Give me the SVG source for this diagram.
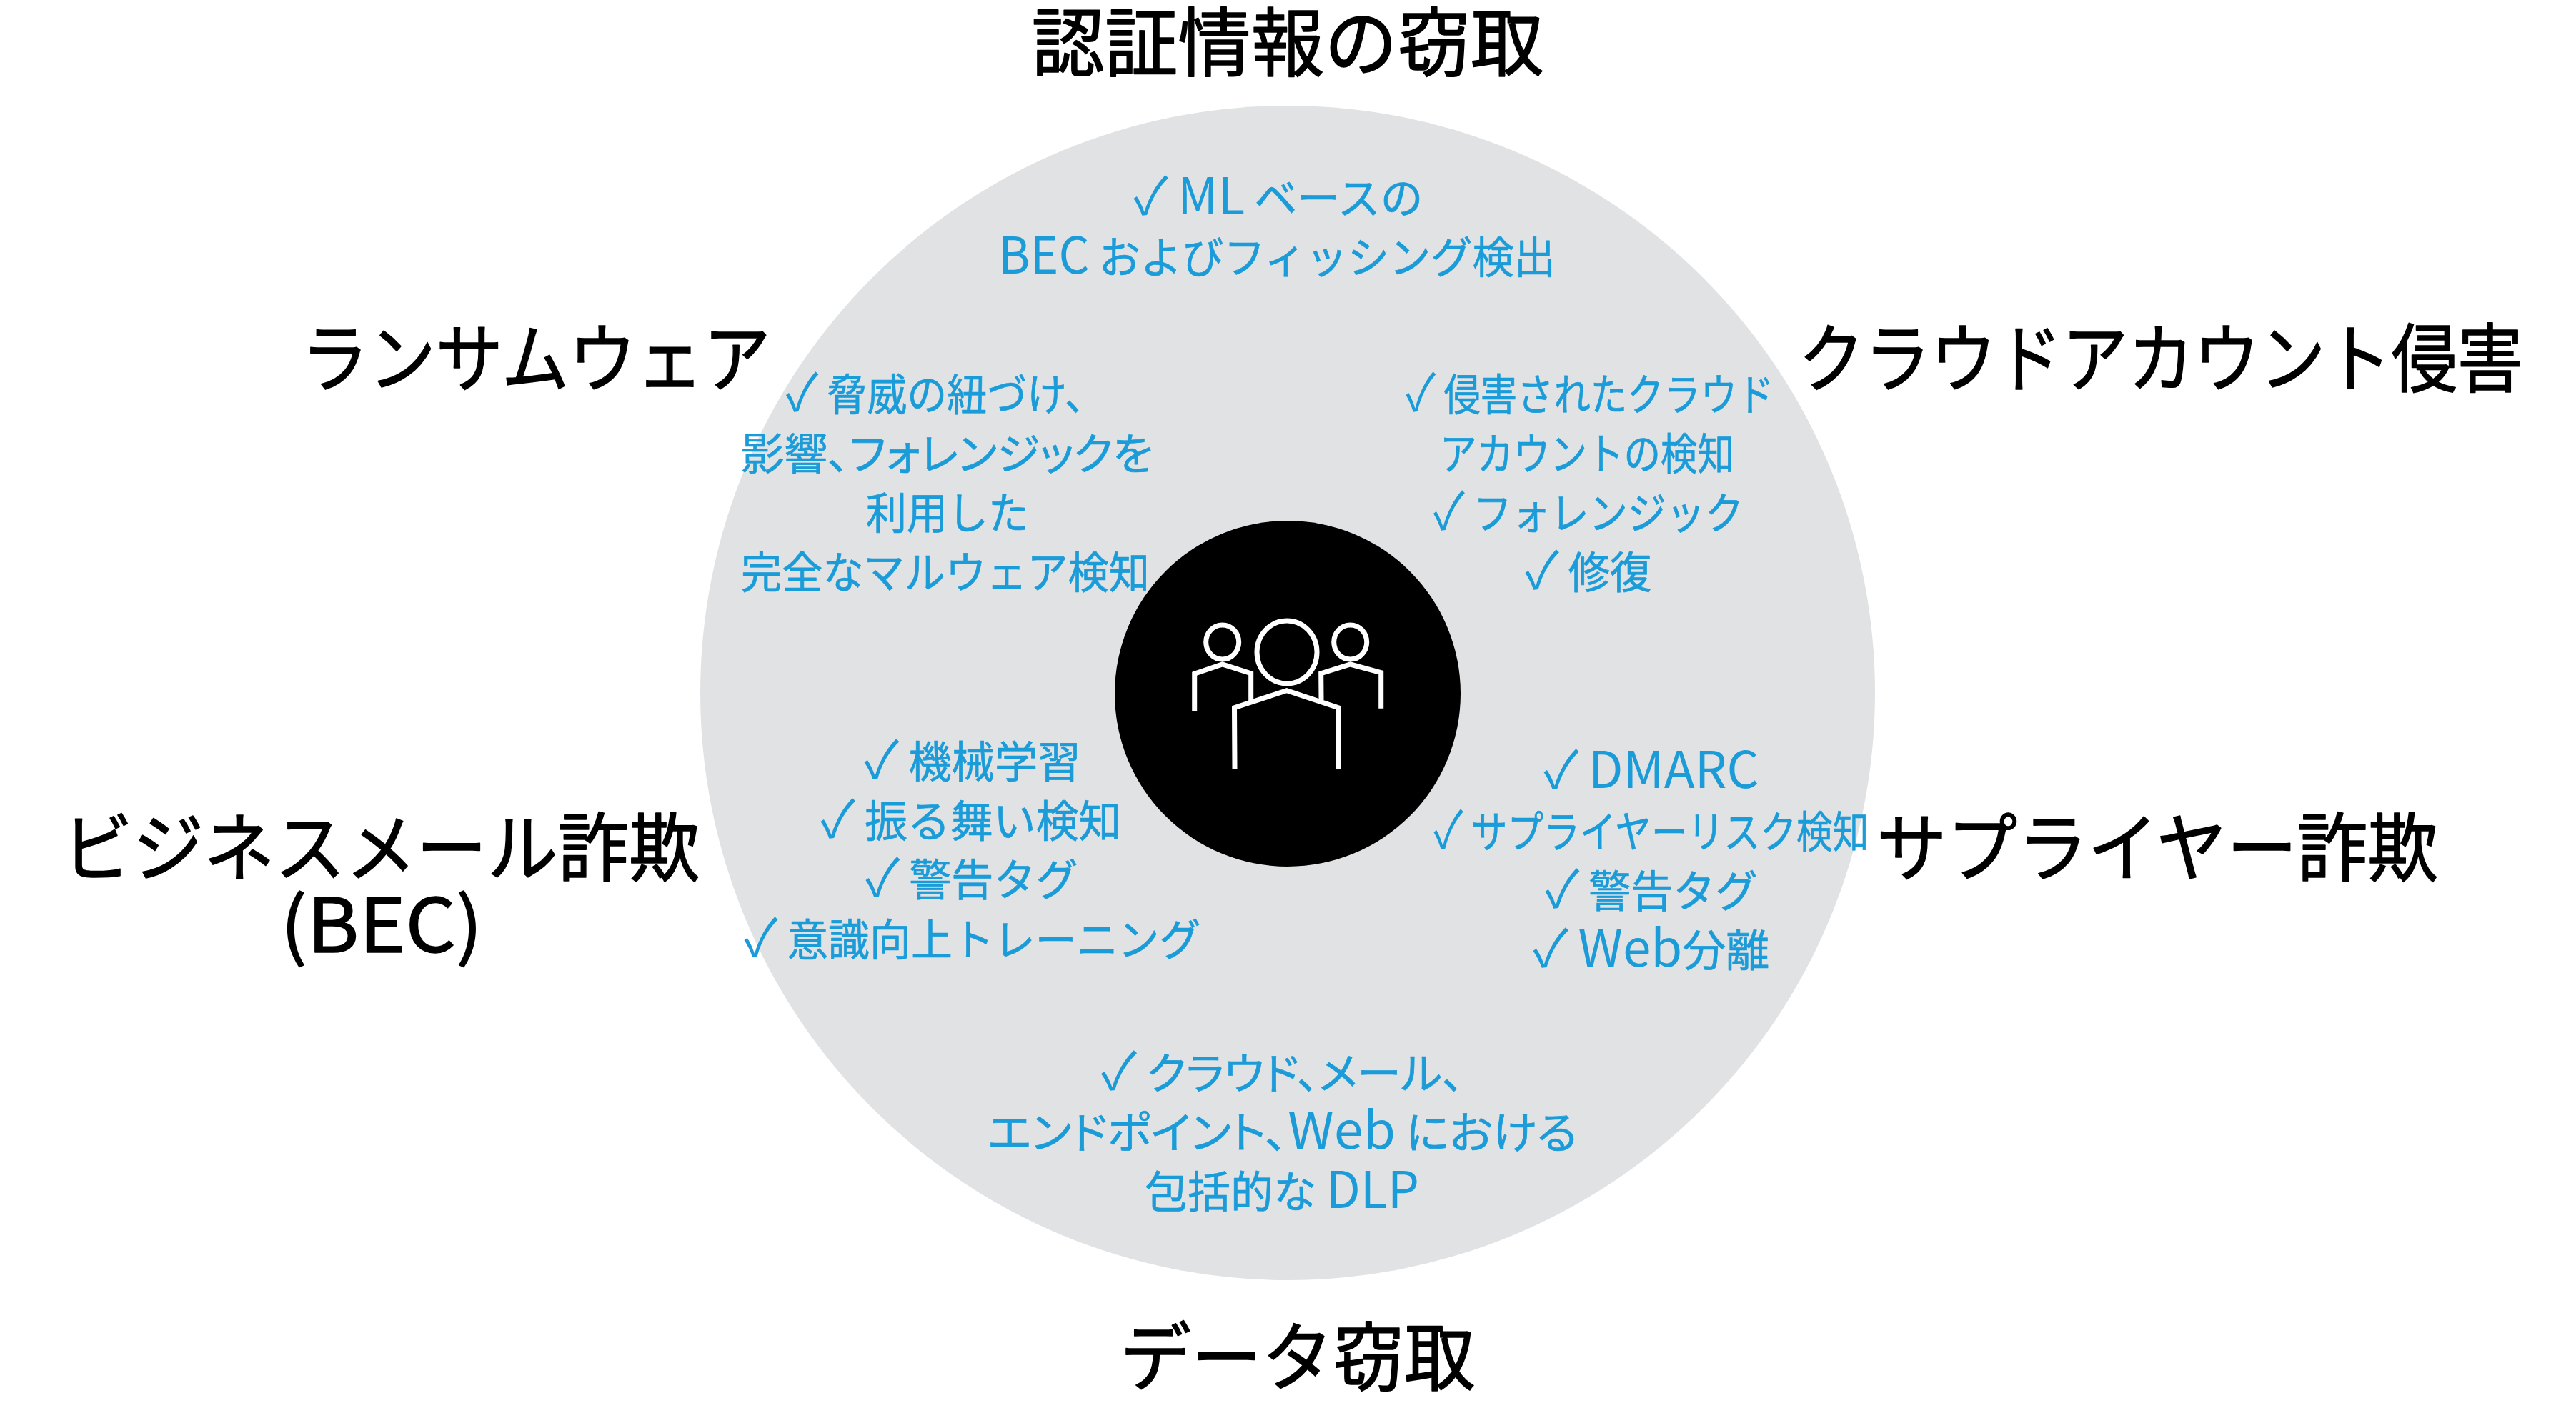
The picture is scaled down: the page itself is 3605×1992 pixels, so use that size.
<svg xmlns="http://www.w3.org/2000/svg" width="3605" height="1992" viewBox="0 0 3605 1992">
<style>
text{font-family:"Noto Sans CJK JP","Noto Sans",sans-serif;text-anchor:middle;stroke-linejoin:round}
.t{font-size:105px;fill:#000;stroke:#000;stroke-width:1.5px}
.b{font-size:61px;fill:#1b9cd9;stroke:#1b9cd9;stroke-width:.7px}
.c{font-size:72px;stroke:none}
.l{font-size:71px;stroke:none}
.p{font-feature-settings:"palt"}
.i{fill:none;stroke:#fff;stroke-width:7}
</style>
<rect width="3605" height="1992" fill="#fff"/>
<circle id="outer-circle" cx="1802" cy="970" r="822" fill="#e1e2e4"/>
<g id="center-icon">
<circle cx="1802" cy="971" r="242" fill="#000"/>
<ellipse class="i" cx="1801" cy="913" rx="42" ry="44"/>
<path class="i" d="M1728 1076L1727.500 990.700L1800.700 966.700L1873 990.700V1076"/>
<ellipse class="i" cx="1710.700" cy="899" rx="23" ry="24"/>
<path class="i" d="M1671.700 995V943.300L1710.700 930L1750.700 942.700V981.700"/>
<ellipse class="i" cx="1889.700" cy="899" rx="23" ry="24"/>
<path class="i" d="M1849 980L1848.700 942.700L1889.700 930L1932.700 941.700V991.700"/>
</g>
<g id="credential-theft">
<text class="t" x="1802" y="98" textLength="717" lengthAdjust="spacingAndGlyphs">認証情報の窃取</text>
<text class="b" x="1789" y="300" textLength="405" lengthAdjust="spacingAndGlyphs"><tspan class="c">✓</tspan> <tspan class="l">ML</tspan> ベースの</text>
<text class="b" x="1787" y="383" textLength="780" lengthAdjust="spacingAndGlyphs"><tspan class="l">BEC</tspan> およびフィッシング検出</text>
</g>
<g id="ransomware">
<text class="t" x="750" y="540" textLength="657" lengthAdjust="spacingAndGlyphs">ランサムウェア</text>
<text class="b" x="1323" y="575" textLength="446" lengthAdjust="spacingAndGlyphs"><tspan class="c">✓</tspan> 脅威の紐づけ、</text>
<text class="b p" x="1325" y="658" textLength="577" lengthAdjust="spacingAndGlyphs">影響、フォレンジックを</text>
<text class="b" x="1326" y="741" textLength="228" lengthAdjust="spacingAndGlyphs">利用した</text>
<text class="b" x="1323" y="824" textLength="572" lengthAdjust="spacingAndGlyphs">完全なマルウェア検知</text>
</g>
<g id="cloud-account">
<text class="t" x="3024" y="540" textLength="1014" lengthAdjust="spacingAndGlyphs">クラウドアカウント侵害</text>
<text class="b" x="2225" y="575" textLength="515" lengthAdjust="spacingAndGlyphs"><tspan class="c">✓</tspan> 侵害されたクラウド</text>
<text class="b" x="2221" y="658" textLength="412" lengthAdjust="spacingAndGlyphs">アカウントの検知</text>
<text class="b" x="2223" y="741" textLength="434" lengthAdjust="spacingAndGlyphs"><tspan class="c">✓</tspan> フォレンジック</text>
<text class="b" x="2223" y="824" textLength="177" lengthAdjust="spacingAndGlyphs"><tspan class="c">✓</tspan> 修復</text>
</g>
<g id="bec">
<text class="t" x="533" y="1225" textLength="892" lengthAdjust="spacingAndGlyphs">ビジネスメール詐欺</text>
<text class="t" x="534" y="1333" textLength="283" lengthAdjust="spacingAndGlyphs">(BEC)</text>
<text class="b" x="1361" y="1089" textLength="303" lengthAdjust="spacingAndGlyphs"><tspan class="c">✓</tspan> 機械学習</text>
<text class="b" x="1359" y="1172" textLength="421" lengthAdjust="spacingAndGlyphs"><tspan class="c">✓</tspan> 振る舞い検知</text>
<text class="b" x="1360" y="1254" textLength="297" lengthAdjust="spacingAndGlyphs"><tspan class="c">✓</tspan> 警告タグ</text>
<text class="b" x="1361" y="1338" textLength="639" lengthAdjust="spacingAndGlyphs"><tspan class="c">✓</tspan> 意識向上トレーニング</text>
</g>
<g id="supplier-fraud">
<text class="t" x="3019" y="1225" textLength="786" lengthAdjust="spacingAndGlyphs">サプライヤー詐欺</text>
<text class="b" x="2311" y="1103" textLength="301" lengthAdjust="spacingAndGlyphs"><tspan class="c">✓</tspan> <tspan class="l">DMARC</tspan></text>
<text class="b" x="2311" y="1187" textLength="609" lengthAdjust="spacingAndGlyphs"><tspan class="c">✓</tspan> サプライヤーリスク検知</text>
<text class="b" x="2311" y="1270" textLength="297" lengthAdjust="spacingAndGlyphs"><tspan class="c">✓</tspan> 警告タグ</text>
<text class="b" x="2311" y="1353" textLength="331" lengthAdjust="spacingAndGlyphs"><tspan class="c">✓</tspan> <tspan class="l">Web</tspan>分離</text>
</g>
<g id="data-theft">
<text class="t" x="1816" y="1938" textLength="497" lengthAdjust="spacingAndGlyphs">データ窃取</text>
<text class="b p" x="1795" y="1525" textLength="508" lengthAdjust="spacingAndGlyphs"><tspan class="c">✓</tspan> クラウド、メール、</text>
<text class="b p" x="1795" y="1608" textLength="825" lengthAdjust="spacingAndGlyphs">エンドポイント、<tspan class="l">Web</tspan> における</text>
<text class="b" x="1794" y="1691" textLength="384" lengthAdjust="spacingAndGlyphs">包括的な <tspan class="l">DLP</tspan></text>
</g>
</svg>
